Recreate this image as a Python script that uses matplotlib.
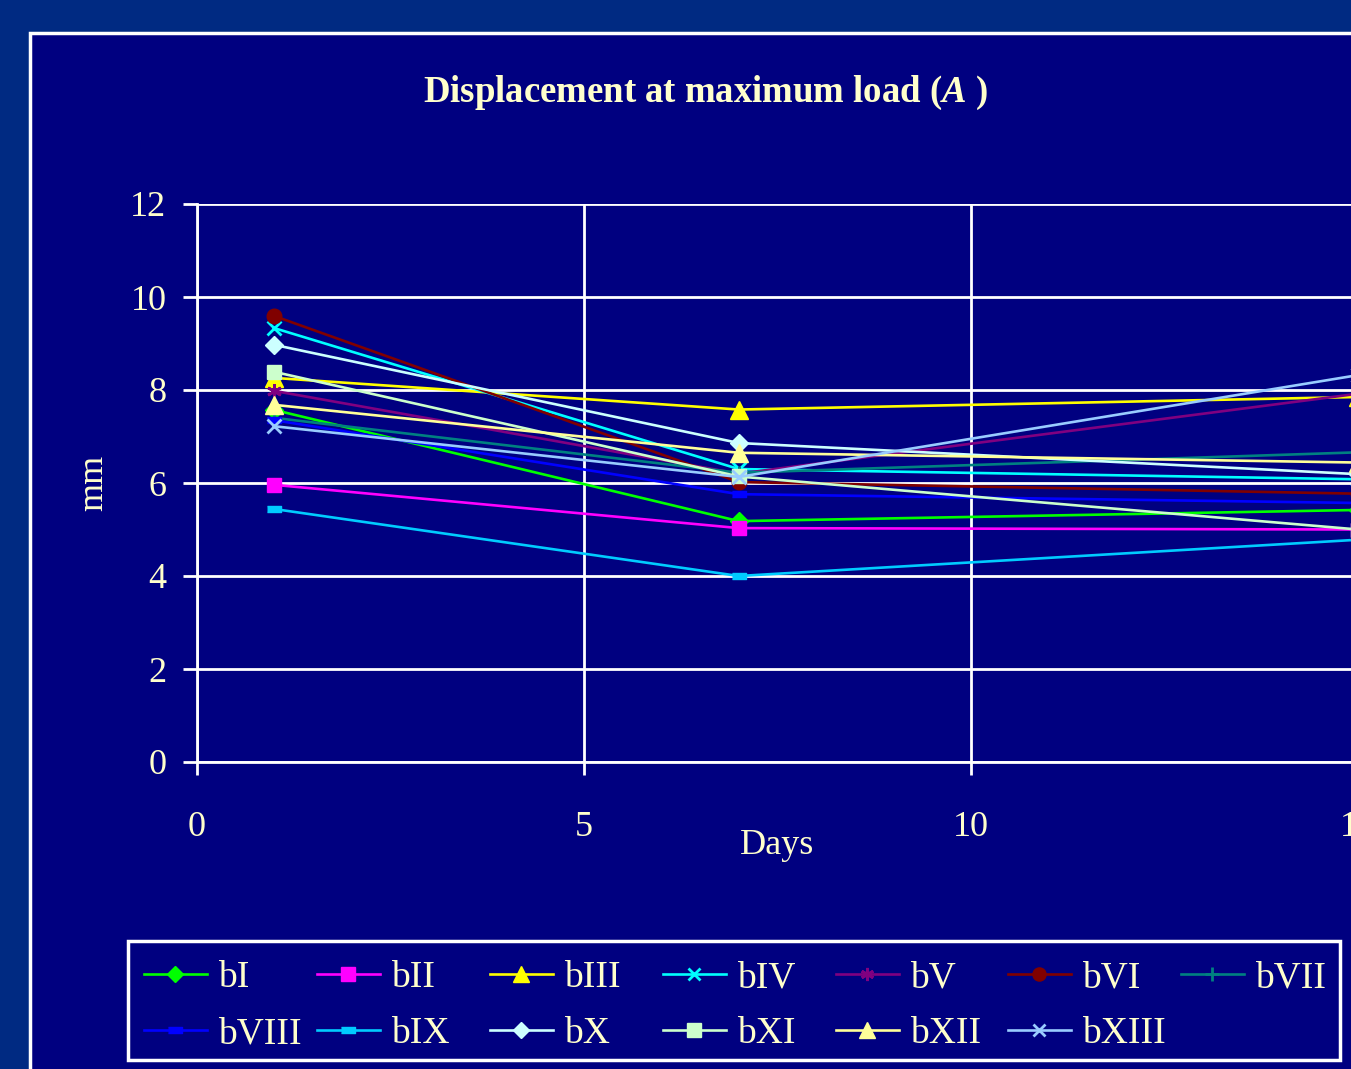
import matplotlib
matplotlib.use('Agg')
import matplotlib.pyplot as plt
from matplotlib.patches import Rectangle
import numpy as np

plt.rcParams['font.family'] = ['Liberation Serif', 'DejaVu Serif']
plt.rcParams['mathtext.fontset'] = 'custom'
plt.rcParams['mathtext.rm'] = 'Liberation Serif:bold'
plt.rcParams['mathtext.it'] = 'Liberation Serif:italic:bold'

W, H = 1351, 1069
TXT = '#FFFFCC'
NAVY = '#000080'

days = [1, 7, 15]

labels = ['bI', 'bII', 'bIII', 'bIV', 'bV', 'bVI', 'bVII',
          'bVIII', 'bIX', 'bX', 'bXI', 'bXII', 'bXIII']

bI = [7.57, 5.18, 5.42]
bII = [5.96, 5.03, 5.00]
bIII = [8.26, 7.58, 7.85]
bIV = [9.33, 6.30, 6.08]
bV = [7.98, 6.20, 7.92]
bVI = [9.59, 6.02, 5.77]
bVII = [7.40, 6.22, 6.66]
bVIII = [7.35, 5.76, 5.57]
bIX = [5.44, 4.00, 4.78]
bX = [8.97, 6.86, 6.19]
bXI = [8.39, 6.14, 5.00]
bXII = [7.68, 6.65, 6.44]
bXIII = [7.22, 6.13, 8.32]

series = [bI, bII, bIII, bIV, bV, bVI, bVII, bVIII, bIX, bX, bXI, bXII, bXIII]

colors = ['#00FF00', '#FF00FF', '#FFFF00', '#00FFFF', '#800080', '#800000',
          '#008080', '#0000FF', '#00CCFF', '#CCFFFF', '#CCFFCC', '#FFFF99',
          '#99CCFF']

bar = [(-1, -0.45), (1, -0.45), (1, 0.45), (-1, 0.45)]
markers = ['D', 's', '^', 'x', (6, 2, 0), 'o', '+', bar, bar, 'D', 's', '^', 'x']
msizes = [9.5, 10.5, 12.5, 9.5, 10.5, 10.5, 10.5, 10.5, 10.5, 9.5, 10.5, 12.5, 9.5]

fig = plt.figure(figsize=(W / 100, H / 100), dpi=100, facecolor='#002A82')

# chart panel with white frame
panel = Rectangle((30 / W, -0.2), 1.2, 1.2 - 33 / H, transform=fig.transFigure,
                  facecolor=NAVY, edgecolor='white', lw=2.5, zorder=-10)
fig.patches.append(panel)

ax = fig.add_axes([197 / W, 1 - 762 / H, 1161 / W, 558 / H])
ax.set_zorder(2)
ax.patch.set_alpha(0)

handles = []
for vals, lab, c, m, ms in zip(series, labels, colors, markers, msizes):
    mew = 2 if m in ('x', '+') or m == (6, 2, 0) else 1
    h, = ax.plot(days, vals, color=c, lw=1.9, marker=m, markersize=ms,
                 markerfacecolor=c, markeredgecolor=c, markeredgewidth=mew,
                 label=lab, clip_on=False)
    handles.append(h)

ax.set_xlim(0, 15)
ax.set_ylim(0, 12)
ax.set_xticks([0, 5, 10, 15])
ax.set_yticks(range(0, 13, 2))
ax.grid(True, color='white', lw=2)
ax.set_axisbelow(True)
for s in ['top', 'right']:
    ax.spines[s].set_visible(False)
for s in ['left', 'bottom']:
    ax.spines[s].set_color('white')
    ax.spines[s].set_linewidth(2)
ax.tick_params(axis='y', colors='white', labelcolor=TXT, labelsize=26,
               length=10, width=2, pad=12)
ax.tick_params(axis='x', colors='white', labelcolor=TXT, labelsize=26,
               length=9.5, width=2, pad=26)

ax.set_xlabel('Days', fontsize=26, color=TXT)
ax.xaxis.set_label_coords(0.5, -0.12)
ax.set_ylabel('mm', fontsize=26, color=TXT)
ax.yaxis.set_label_coords(-0.075, 0.5)

fig.text(705 / W, 1 - 93 / H, r'Displacement at maximum load ($\it{A}$ )',
         ha='center', va='center', fontsize=26.5, fontweight='bold', color=TXT)

# legend box and columns laid out on a fixed grid
fig.patches.append(Rectangle((128 / W, 1 - 1060 / H), 1212 / W, 119 / H,
                             transform=fig.transFigure, facecolor=NAVY,
                             edgecolor='white', lw=2.5, zorder=1))
col_x = [136, 309, 482, 655, 828, 1000, 1173]
for k in range(7):
    hs = [handles[k]]
    if k + 7 < len(handles):
        hs.append(handles[k + 7])
    leg = fig.legend(handles=hs, loc='upper left',
                     bbox_to_anchor=(col_x[k] / W, 1 - 953 / H),
                     frameon=False, fontsize=27, handlelength=1.7,
                     handletextpad=0.3, labelspacing=0.58, borderaxespad=0,
                     borderpad=0.2, labelcolor=TXT)
    leg.set_zorder(5)
    for lh in leg.legend_handles:
        lh.set_markersize(lh.get_markersize() * 0.9)

fig.savefig('out.png', dpi=100, facecolor=fig.get_facecolor())
